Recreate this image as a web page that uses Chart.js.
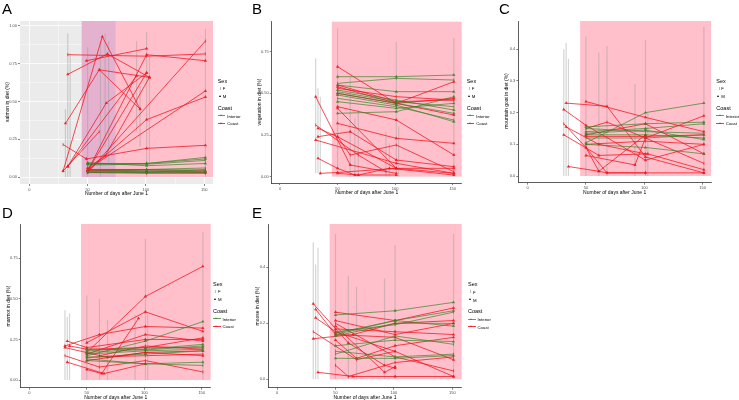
<!DOCTYPE html>
<html>
<head>
<meta charset="utf-8">
<script src="https://cdn.jsdelivr.net/npm/chart.js@4.4.1/dist/chart.umd.min.js"></script>
<style>
  body { margin: 0; background: #fff; font-family: "Liberation Sans", Arial, sans-serif; }
  #page { position: relative; width: 739px; height: 400px; overflow: hidden; }
  canvas { position: absolute; }
  .tag { position: absolute; font-size: 15px; line-height: 15px; color: #000; }
  .ytitle { position: absolute; font-size: 5px; line-height: 5px; white-space: nowrap; transform: translate(-50%, -50%) rotate(-90deg); }
  .xtitle { position: absolute; font-size: 5px; line-height: 5px; white-space: nowrap; transform: translate(-50%, -50%); }
  .lg { position: absolute; white-space: nowrap; transform: translateY(-50%); color: #000; }
  .lgt { font-size: 5.5px; line-height: 6px; }
  .lgl { font-size: 4.3px; line-height: 5px; }
  .key { position: absolute; }
</style>
</head>
<body>
<div id="page"></div>
<script>
// x axis: number of days after June 1
const dayTicks = [0, 50, 100, 150];

// A - salmon
const salmonTicks = [0, 0.25, 0.5, 0.75, 1];
const salmonInterior = [
  [[50, 0.09], [100.6, 0.09], [151, 0.13]],
  [[50, 0.08], [100.6, 0.085], [151, 0.11]],
  [[50, 0.095], [100.6, 0.075], [151, 0.09]],
  [[50, 0.085], [100.6, 0.09], [151, 0.12]],
  [[50, 0.05], [100.6, 0.05], [151, 0.06]],
  [[50, 0.04], [100.6, 0.045], [151, 0.04]],
  [[50, 0.035], [100.6, 0.03], [151, 0.05]],
  [[50, 0.03], [100.6, 0.03], [151, 0.03]]
];
const salmonInteriorSex = "MFMMFMFM";
const salmonCoast = [
  [[29, 0.04], [62.6, 0.93], [95, 0.45]],
  [[31, 0.355], [60, 0.71], [103, 0.66]],
  [[33, 0.68], [67, 0.815], [103, 0.66]],
  [[33, 0.81], [100.6, 0.80], [151, 0.815]],
  [[49, 0.77], [100.6, 0.85]],
  [[50, 0.04], [100.6, 0.81], [151, 0.77]],
  [[50, 0.03], [151, 0.90]],
  [[50, 0.04], [100.6, 0.38], [151, 0.53]],
  [[50, 0.05], [151, 0.57]],
  [[49, 0.12], [100.6, 0.19], [151, 0.21]],
  [[29, 0.215], [49, 0.12]],
  [[33, 0.07], [66, 0.49], [100.6, 0.69]],
  [[29, 0.04], [60, 0.30]],
  [[33, 0.07], [92, 0.67]],
  [[50, 0.04], [100.6, 0.69]],
  [[60, 0.71], [95, 0.45]],
  [[50, 0.06], [65, 0.14], [103, 0.66]],
  [[50, 0.04], [100.6, 0.035], [151, 0.03]],
  [[50, 0.03], [100.6, 0.025], [151, 0.025]],
  [[50, 0.045], [100.6, 0.04], [151, 0.035]],
  [[50, 0.05], [100.6, 0.05], [151, 0.045]]
];
const salmonCoastSex = "MMMFMMFMMMFMFMMFMMFMF";
const salmonErr = [
  [31, 0.0, 0.45], [33, 0.0, 0.95], [35, 0.0, 0.82], [50, 0.0, 0.86], [61, 0.0, 0.9],
  [65, 0.2, 0.95], [68, 0.1, 0.9], [92, 0.3, 0.9], [95, 0.2, 0.6], [100.6, 0.0, 0.96],
  [103, 0.1, 0.8], [151, 0.0, 0.98]
];

// B - vegetation
const vegTicks = [0, 0.25, 0.5, 0.75];
const vegInterior = [
  [[50, 0.60], [101, 0.60], [151, 0.61]],
  [[50, 0.56], [101, 0.59], [151, 0.58]],
  [[50, 0.55], [101, 0.51], [151, 0.51]],
  [[50, 0.52], [101, 0.46], [151, 0.40]],
  [[50, 0.51], [101, 0.45], [151, 0.42]],
  [[50, 0.50], [101, 0.44], [151, 0.38]],
  [[50, 0.49], [101, 0.43], [151, 0.33]],
  [[50, 0.47], [101, 0.42], [151, 0.34]],
  [[50, 0.45], [101, 0.41], [151, 0.44]],
  [[50, 0.38], [101, 0.39], [151, 0.48]]
];
const vegInteriorSex = "MFMMFMMFMM";
const vegCoast = [
  [[50, 0.66], [101, 0.44], [151, 0.47]],
  [[50, 0.54], [101, 0.44], [151, 0.57]],
  [[50, 0.53], [101, 0.48], [151, 0.46]],
  [[50, 0.42], [101, 0.34], [151, 0.13]],
  [[50, 0.41], [101, 0.05], [151, 0.02]],
  [[50, 0.32], [101, 0.23], [151, 0.20]],
  [[31, 0.48], [61, 0.07], [101, 0.02]],
  [[31, 0.31], [68, 0.13], [92, 0.03]],
  [[33, 0.24], [61, 0.27], [101, 0.10], [151, 0.06]],
  [[33, 0.11], [50, 0.05], [65, 0.01], [101, 0.01]],
  [[35, 0.02], [50, 0.025], [101, 0.05], [151, 0.05]],
  [[50, 0.24], [61, 0.13], [101, 0.19], [151, 0.03]],
  [[33, 0.29], [50, 0.24], [101, 0.05]],
  [[50, 0.02], [68, 0.01], [95, 0.05], [151, 0.01]],
  [[31, 0.22], [101, 0.08], [151, 0.02]],
  [[50, 0.55], [101, 0.45], [151, 0.46]],
  [[50, 0.50], [101, 0.44], [151, 0.37]]
];
const vegCoastSex = "MMFMMMMFMMMFMMMFM";
const vegErr = [
  [31, 0.02, 0.71], [33, 0.02, 0.53], [35, 0.01, 0.48], [50, 0.05, 0.89], [61, 0.0, 0.6],
  [65, 0.0, 0.35], [68, 0.0, 0.4], [92, 0.0, 0.27], [95, 0.0, 0.2], [101, 0.0, 0.81],
  [103, 0.0, 0.3], [151, 0.0, 0.83]
];

// C - mountain goat
const goatTicks = [0, 0.1, 0.2, 0.3, 0.4];
const goatInterior = [
  [[50, 0.105], [101, 0.20], [151, 0.23]],
  [[50, 0.155], [101, 0.165], [151, 0.17]],
  [[50, 0.15], [101, 0.14], [151, 0.135]],
  [[50, 0.14], [101, 0.15], [151, 0.165]],
  [[50, 0.13], [101, 0.13], [151, 0.12]],
  [[50, 0.12], [101, 0.12], [151, 0.13]],
  [[50, 0.10], [101, 0.09], [151, 0.07]],
  [[50, 0.135], [101, 0.145], [151, 0.115]]
];
const goatInteriorSex = "MMFMMFMM";
const goatCoast = [
  [[50, 0.235], [101, 0.185], [151, 0.14]],
  [[33, 0.23], [68, 0.22], [101, 0.06], [151, 0.01]],
  [[31, 0.165], [50, 0.09], [68, 0.01], [101, 0.01]],
  [[33, 0.155], [61, 0.10], [101, 0.07]],
  [[35, 0.03], [61, 0.015], [68, 0.01], [101, 0.01], [151, 0.01]],
  [[50, 0.065], [92, 0.035], [101, 0.12], [151, 0.19]],
  [[50, 0.15], [68, 0.17], [101, 0.12], [151, 0.04]],
  [[31, 0.21], [50, 0.16], [101, 0.05], [151, 0.10]],
  [[50, 0.13], [101, 0.165], [151, 0.07]],
  [[50, 0.10], [101, 0.11], [151, 0.10]],
  [[50, 0.125], [101, 0.125], [151, 0.13]],
  [[31, 0.13], [61, 0.065], [103, 0.07], [151, 0.02]],
  [[50, 0.09], [61, 0.015], [101, 0.13]]
];
const goatCoastSex = "MMFMMMFMMFMMM";
const goatErr = [
  [31, 0, 0.40], [33, 0, 0.42], [35, 0, 0.37], [50, 0, 0.44], [61, 0, 0.39],
  [68, 0, 0.41], [92, 0, 0.29], [101, 0, 0.43], [103, 0, 0.2], [151, 0, 0.47]
];

// D - marmot
const marmotTicks = [0, 0.25, 0.5, 0.75];
const marmotInterior = [
  [[50, 0.15], [101, 0.24], [151, 0.36]],
  [[50, 0.17], [101, 0.19], [151, 0.22]],
  [[50, 0.16], [101, 0.18], [151, 0.19]],
  [[50, 0.14], [101, 0.16], [151, 0.18]],
  [[50, 0.12], [101, 0.10], [151, 0.11]],
  [[50, 0.13], [101, 0.10], [151, 0.09]],
  [[50, 0.18], [101, 0.20], [151, 0.20]],
  [[50, 0.19], [101, 0.185], [151, 0.21]]
];
const marmotInteriorSex = "MMFMMFMM";
const marmotCoast = [
  [[50, 0.17], [101, 0.515], [151, 0.70]],
  [[50, 0.23], [101, 0.42], [151, 0.30]],
  [[31, 0.21], [61, 0.28], [101, 0.33], [151, 0.32]],
  [[33, 0.24], [50, 0.20], [101, 0.25], [151, 0.25]],
  [[50, 0.065], [63, 0.04], [95, 0.38]],
  [[31, 0.15], [61, 0.08], [101, 0.12], [151, 0.05]],
  [[35, 0.21], [50, 0.19], [101, 0.20], [151, 0.26]],
  [[33, 0.11], [65, 0.04], [101, 0.10]],
  [[50, 0.14], [101, 0.15], [151, 0.16]],
  [[50, 0.16], [101, 0.28], [151, 0.24]],
  [[31, 0.20], [68, 0.14], [101, 0.17], [151, 0.15]],
  [[50, 0.12], [101, 0.17], [151, 0.18]],
  [[61, 0.15], [101, 0.21], [151, 0.19]]
];
const marmotCoastSex = "MMMMMFMMFMMMF";
const marmotErr = [
  [31, 0, 0.43], [33, 0, 0.39], [35, 0, 0.41], [50, 0, 0.52], [61, 0, 0.50],
  [68, 0, 0.37], [92, 0, 0.4], [101, 0, 0.87], [103, 0, 0.4], [151, 0, 0.91]
];

// E - moose
const mooseTicks = [0, 0.2, 0.4];
const mooseInterior = [
  [[50, 0.23], [101, 0.245], [151, 0.275]],
  [[50, 0.16], [101, 0.21], [151, 0.245]],
  [[50, 0.17], [101, 0.195], [151, 0.24]],
  [[50, 0.155], [101, 0.20], [151, 0.20]],
  [[50, 0.12], [101, 0.14], [151, 0.135]],
  [[50, 0.10], [101, 0.08], [151, 0.09]],
  [[50, 0.075], [101, 0.075], [151, 0.085]],
  [[50, 0.165], [101, 0.21], [151, 0.19]],
  [[50, 0.09], [101, 0.155], [151, 0.125]]
];
const mooseInteriorSex = "MMFMMFMMF";
const mooseCoast = [
  [[31, 0.27], [61, 0.13], [92, 0.05], [101, 0.04]],
  [[33, 0.25], [50, 0.16], [101, 0.15], [151, 0.07]],
  [[33, 0.22], [50, 0.17], [101, 0.10], [151, 0.01]],
  [[31, 0.17], [68, 0.07], [101, 0.10]],
  [[35, 0.025], [65, 0.01], [101, 0.01], [151, 0.01]],
  [[50, 0.24], [101, 0.21], [151, 0.255]],
  [[50, 0.21], [101, 0.16], [151, 0.20]],
  [[50, 0.19], [92, 0.025], [101, 0.045]],
  [[50, 0.05], [61, 0.01], [101, 0.06], [151, 0.08]],
  [[50, 0.18], [101, 0.17], [151, 0.16]],
  [[50, 0.14], [68, 0.075], [101, 0.12], [151, 0.15]],
  [[31, 0.145], [65, 0.16], [101, 0.20], [151, 0.21]],
  [[50, 0.20], [101, 0.08], [151, 0.03]]
];
const mooseCoastSex = "MMMFMMMMFMMMF";
const mooseErr = [
  [31, 0, 0.49], [33, 0, 0.41], [35, 0, 0.47], [50, 0, 0.52], [61, 0, 0.37],
  [68, 0, 0.33], [92, 0, 0.36], [101, 0, 0.48], [151, 0, 0.52]
];

const FONT = '"Liberation Sans", Arial, sans-serif';
const RED = 'rgba(240, 20, 30, 0.85)';
const GREEN = 'rgba(52, 128, 36, 0.75)';
const ERRCOL = 'rgba(150, 150, 150, 0.4)';
const PINK = '#FFC0CB';

const page = document.getElementById('page');

// panel background + pink shaded window
const shading = {
  id: 'shading',
  beforeDraw(chart, args, opts) {
    if (!opts.fill) return;
    const { ctx, chartArea: a } = chart;
    ctx.save();
    ctx.fillStyle = opts.fill;
    ctx.fillRect(a.left, a.top, a.width, a.height);
    ctx.restore();
  },
  beforeDatasetsDraw(chart, args, opts) {
    const { ctx, chartArea: a, scales } = chart;
    const y0 = scales.y.getPixelForValue(0);
    ctx.save();
    (opts.bands || []).forEach(b => {
      const x0 = scales.x.getPixelForValue(b.from);
      const x1 = b.to == null ? a.right : scales.x.getPixelForValue(b.to);
      ctx.fillStyle = b.color;
      ctx.fillRect(x0, a.top, x1 - x0, y0 - a.top);
    });
    ctx.restore();
  }
};

function trackSet(track, sex, color, order) {
  const male = sex !== 'F';
  return {
    data: track.map(p => ({ x: p[0], y: p[1] })),
    showLine: true,
    borderColor: color,
    borderWidth: 0.9,
    pointStyle: male ? 'triangle' : 'line',
    rotation: male ? 0 : 90,
    pointRadius: male ? 1.9 : 1.5,
    pointBackgroundColor: color,
    pointBorderColor: color,
    pointBorderWidth: male ? 0 : 0.8,
    order: order
  };
}

function addText(cls, text, x, y) {
  const d = document.createElement('div');
  d.className = cls;
  d.textContent = text;
  d.style.left = x + 'px';
  d.style.top = y + 'px';
  page.appendChild(d);
  return d;
}

function addKey(css) {
  const d = document.createElement('div');
  d.className = 'key';
  Object.assign(d.style, css);
  page.appendChild(d);
}

function tri(x, y, color) {
  addKey({ left: (x - 1.5) + 'px', top: (y - 1.5) + 'px', width: 0, height: 0,
    borderLeft: '1.5px solid transparent', borderRight: '1.5px solid transparent',
    borderBottom: '2.6px solid ' + color });
}

function legend(x, y) {
  addText('lg lgt', 'Sex', x, y);
  addKey({ left: (x + 2.3) + 'px', top: (y + 6) + 'px', width: '0.6px', height: '3px', background: '#bbb' });
  addText('lg lgl', 'F', x + 5, y + 7.5);
  tri(x + 2.6, y + 15.5, '#000');
  addText('lg lgl', 'M', x + 5, y + 15.5);
  addText('lg lgt', 'Coast', x, y + 27);
  addKey({ left: x + 'px', top: (y + 34.6) + 'px', width: '7.5px', height: '0.8px', background: GREEN });
  tri(x + 3.7, y + 35, GREEN);
  addText('lg lgl', 'Interior', x + 9.5, y + 35);
  addKey({ left: x + 'px', top: (y + 42.4) + 'px', width: '7.5px', height: '0.8px', background: RED });
  tri(x + 3.7, y + 42.8, RED);
  addText('lg lgl', 'Coast', x + 9.5, y + 42.8);
}

function makePanel(p) {
  const [cx, cy, cw, ch] = p.box;
  const [L, R, T, B] = p.area;
  const cv = document.createElement('canvas');
  cv.width = cw; cv.height = ch;
  cv.style.left = cx + 'px'; cv.style.top = cy + 'px';
  page.appendChild(cv);

  const gray = p.theme === 'gray';
  const datasets = [];
  p.interior.forEach((t, i) => datasets.push(trackSet(t, p.interiorSex[i], GREEN, 1)));
  p.coast.forEach((t, i) => datasets.push(trackSet(t, p.coastSex[i], RED, 2)));
  p.err.forEach(e => datasets.push({
    data: [{ x: e[0], y: e[1] }, { x: e[0], y: e[2] }],
    showLine: true, borderColor: ERRCOL, borderWidth: 1.2, pointRadius: 0, order: 3
  }));

  const xVals = gray ? [0, 25, 50, 75, 100, 125, 150] : dayTicks;
  const yVals = gray ? [0, 0.125, 0.25, 0.375, 0.5, 0.625, 0.75, 0.875, 1] : p.yTicks;
  const isMajorX = v => dayTicks.includes(v);
  const isMajorY = v => p.yTicks.some(t => Math.abs(t - v) < 1e-9);

  const axisGrid = isMajor => gray ? {
    drawOnChartArea: true, drawTicks: true, tickLength: 2,
    color: '#ffffff',
    lineWidth: c => isMajor(c.tick.value) ? 0.8 : 0.4,
    tickColor: c => isMajor(c.tick.value) ? '#333' : 'rgba(0,0,0,0)',
    tickWidth: 0.6
  } : {
    drawOnChartArea: false, drawTicks: true, tickLength: 2,
    color: '#333', lineWidth: 0.6,
    tickColor: c => isMajor(c.tick.value) ? '#333' : 'rgba(0,0,0,0)'
  };

  new Chart(cv, {
    type: 'scatter',
    data: { datasets },
    options: {
      responsive: false,
      animation: false,
      devicePixelRatio: 1,
      layout: { padding: { left: 0, top: T - cy, right: cx + cw - R, bottom: 0 } },
      plugins: {
        legend: { display: false },
        tooltip: { enabled: false },
        shading: { fill: gray ? '#EBEBEB' : null, bands: p.bands }
      },
      scales: {
        x: {
          type: 'linear', min: p.x[0], max: p.x[1],
          afterFit: s => { s.height = cy + ch - B; },
          afterBuildTicks: s => { s.ticks = xVals.map(v => ({ value: v })); },
          ticks: {
            font: { size: 4, family: FONT }, color: '#4d4d4d', padding: 1,
            autoSkip: false, maxRotation: 0,
            callback: v => isMajorX(v) ? String(v) : ''
          },
          grid: axisGrid(isMajorX),
          border: { display: !gray, color: '#333', width: 0.8 }
        },
        y: {
          type: 'linear', min: p.y[0], max: p.y[1],
          afterFit: s => { s.width = L - cx; },
          afterBuildTicks: s => { s.ticks = yVals.map(v => ({ value: v })); },
          ticks: {
            font: { size: 4, family: FONT }, color: '#4d4d4d', padding: 1,
            autoSkip: false,
            callback: v => isMajorY(v) ? v.toFixed(p.dec) : ''
          },
          grid: axisGrid(isMajorY),
          border: { display: !gray, color: '#333', width: 0.8 }
        }
      }
    },
    plugins: [shading]
  });

  addText('tag', p.tag, p.tagPos[0], p.tagPos[1]);
  addText('ytitle', p.yTitle, p.yTitlePos[0], p.yTitlePos[1]);
  addText('xtitle', 'Number of days after June 1', (L + R) / 2, B + 9);
  legend(p.legendPos[0], p.legendPos[1]);
}

const panels = [
  { tag: 'A', box: [0, 0, 240, 200], area: [20, 213, 21, 184], x: [-7.97, 157.5], y: [-0.046, 1.033],
    yTicks: salmonTicks, dec: 2, theme: 'gray',
    bands: [{ from: 45, color: PINK }, { from: 45, to: 74, color: '#E4B2CF' }],
    interior: salmonInterior, interiorSex: salmonInteriorSex, coast: salmonCoast, coastSex: salmonCoastSex,
    err: salmonErr, yTitle: 'salmon in diet (%)', yTitlePos: [7, 102], tagPos: [2, 1], legendPos: [217.7, 80.5] },
  { tag: 'B', box: [245, 0, 240, 200], area: [271.7, 461.7, 21.7, 183], x: [-7.2, 157.8], y: [-0.038, 0.93],
    yTicks: vegTicks, dec: 2, theme: 'classic', bands: [{ from: 45, color: PINK }],
    interior: vegInterior, interiorSex: vegInteriorSex, coast: vegCoast, coastSex: vegCoastSex,
    err: vegErr, yTitle: 'vegetation in diet (%)', yTitlePos: [259, 102], tagPos: [252, 1], legendPos: [466.7, 80.5] },
  { tag: 'C', box: [485, 0, 254, 200], area: [518.3, 711, 21, 182.7], x: [-7.95, 157.1], y: [-0.021, 0.489],
    yTicks: goatTicks, dec: 1, theme: 'classic', bands: [{ from: 45, color: PINK }],
    interior: goatInterior, interiorSex: goatInteriorSex, coast: goatCoast, coastSex: goatCoastSex,
    err: goatErr, yTitle: 'mountain goat in diet (%)', yTitlePos: [506, 101], tagPos: [499, 1], legendPos: [716.3, 80.5] },
  { tag: 'D', box: [0, 200, 240, 200], area: [20.7, 210.7, 224, 387.7], x: [-7.5, 157.8], y: [-0.047, 0.961],
    yTicks: marmotTicks, dec: 2, theme: 'classic', bands: [{ from: 45, color: PINK }],
    interior: marmotInterior, interiorSex: marmotInteriorSex, coast: marmotCoast, coastSex: marmotCoastSex,
    err: marmotErr, yTitle: 'marmot in diet (%)', yTitlePos: [7.5, 306], tagPos: [2, 205], legendPos: [213, 283.5] },
  { tag: 'E', box: [245, 200, 240, 200], area: [268.3, 461.7, 224, 387.7], x: [-7.5, 158], y: [-0.03, 0.555],
    yTicks: mooseTicks, dec: 1, theme: 'classic', bands: [{ from: 45, color: PINK }],
    interior: mooseInterior, interiorSex: mooseInteriorSex, coast: mooseCoast, coastSex: mooseCoastSex,
    err: mooseErr, yTitle: 'moose in diet (%)', yTitlePos: [256.5, 306], tagPos: [252, 205], legendPos: [468, 284] }
];

panels.forEach(makePanel);
</script>
</body>
</html>
